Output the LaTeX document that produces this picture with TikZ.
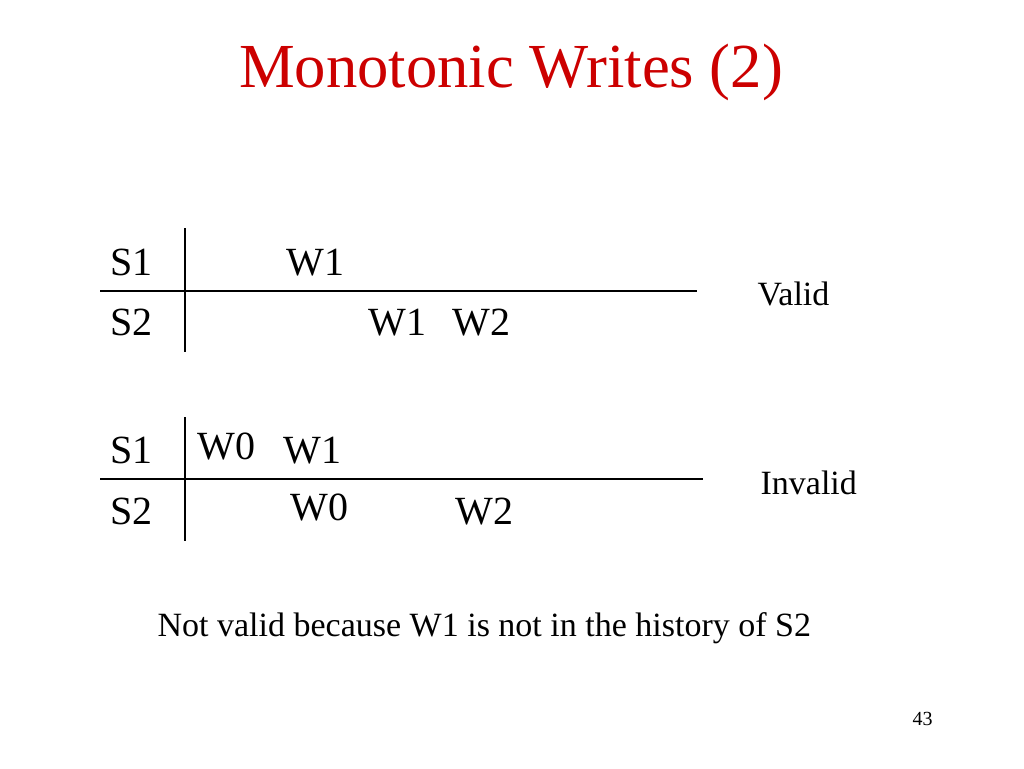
\documentclass[tikz,border=0pt]{standalone}
\usepackage{fontspec}
\setmainfont{Liberation Serif}
\definecolor{titlered}{RGB}{204,0,0}
\begin{document}
\begin{tikzpicture}[x=0.75pt,y=-0.75pt,line width=0.9pt,
  lbl/.style={anchor=base west,inner sep=0pt,font=\fontsize{30}{36}\selectfont},
  tag/.style={anchor=base west,inner sep=0pt,font=\fontsize{25.5}{30}\selectfont}]
            \useasboundingbox[fill=white] (0,0) rectangle (1024,768);
            \node[anchor=base,inner sep=0pt,text=titlered,font=\fontsize{47}{56}\selectfont] (title) at (511,87) {Monotonic Writes (2)};
            % valid case
            \coordinate (VT) at (185,228);
            \coordinate (VB) at (185,352);
            \coordinate (VL) at (100,291);
            \coordinate (VR) at (697,291);
            \node[lbl] (S1a) at (110,275) {S1};
            \node[lbl] (S2a) at (110,335) {S2};
            \node[lbl] (W1a) at (286,275) {W1};
            \node[lbl] (W1b) at (368,335) {W1};
            \node[lbl] (W2b) at (452,335) {W2};
            \node[tag] (valid) at (757,305) {Valid};
            \draw (VT) -- (VB);
            \draw (VL) -- (VR);
            % invalid case
            \coordinate (IT) at (185,417);
            \coordinate (IB) at (185,541);
            \coordinate (IL) at (100,479);
            \coordinate (IR) at (703,479);
            \node[lbl] (S1c) at (110,463) {S1};
            \node[lbl] (S2c) at (110,524) {S2};
            \node[lbl] (W0c) at (197,459) {W0};
            \node[lbl] (W1c) at (283,463) {W1};
            \node[lbl] (W0d) at (290,520) {W0};
            \node[lbl] (W2d) at (455,524) {W2};
            \node[tag] (invalid) at (760,494) {Invalid};
            \draw (IT) -- (IB);
            \draw (IL) -- (IR);
            \node[tag] (note) at (157,636) {Not valid because W1 is not in the history of S2};
            \node[anchor=base west,inner sep=0pt,font=\fontsize{15}{18}\selectfont] (page) at (912,725) {43};
\end{tikzpicture}
\end{document}
